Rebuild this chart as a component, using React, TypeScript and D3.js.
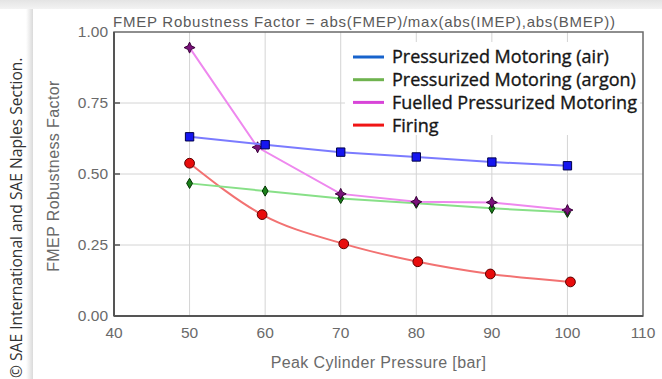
import React from "react";
import * as d3 from "d3";

// Peak cylinder pressure [bar] and FMEP robustness factor for each test mode
const airPressure = [50, 60, 70, 80, 90, 100];
const airFactor = [0.631, 0.603, 0.577, 0.56, 0.542, 0.529];

const argonPressure = [50, 60, 70, 80, 90, 100];
const argonFactor = [0.467, 0.44, 0.414, 0.397, 0.379, 0.365];

const fuelledPressure = [50, 59, 70, 80, 90, 100];
const fuelledFactor = [0.945, 0.594, 0.43, 0.402, 0.4, 0.373];

const firingPressure = [50, 59.6, 70.4, 80.2, 89.8, 100.4];
const firingFactor = [0.538, 0.357, 0.254, 0.191, 0.148, 0.12];

const xTicks = [40, 50, 60, 70, 80, 90, 100, 110];
const yTicks = [0, 0.25, 0.5, 0.75, 1.0];

const legendLabels = [
  "Pressurized Motoring (air)",
  "Pressurized Motoring (argon)",
  "Fuelled Pressurized Motoring",
  "Firing",
];

const W = 662;
const H = 379;
const plot = { left: 114, right: 643, top: 32, bottom: 316 };

type Series = {
  xs: number[];
  ys: number[];
  line: string;
  legend: string;
  marker: "square" | "diamond" | "star" | "circle";
  fill: string;
  stroke: string;
  smooth: boolean;
};

const series: Series[] = [
  { xs: firingPressure, ys: firingFactor, line: "#f27272", legend: "#f01515", marker: "circle", fill: "#e80c0c", stroke: "#5a0000", smooth: true },
  { xs: argonPressure, ys: argonFactor, line: "#88e088", legend: "#6fb34f", marker: "diamond", fill: "#1a801a", stroke: "#003300", smooth: false },
  { xs: fuelledPressure, ys: fuelledFactor, line: "#ee88ee", legend: "#d845d8", marker: "star", fill: "#7a127a", stroke: "#3a003a", smooth: false },
  { xs: airPressure, ys: airFactor, line: "#7b7bff", legend: "#1763cc", marker: "square", fill: "#1515f0", stroke: "#00004a", smooth: false },
];

const legendOrder = [3, 1, 2, 0];

// four-pointed star marker centred on the origin
function starPath(r: number) {
  const pts: [number, number][] = [];
  for (let i = 0; i < 8; i++) {
    const a = (Math.PI / 4) * i - Math.PI / 2;
    const rr = i % 2 === 0 ? r : r * 0.45;
    pts.push([Math.cos(a) * rr, Math.sin(a) * rr]);
  }
  return d3.line()(pts) + "Z";
}

export default function App() {
  const x = d3.scaleLinear().domain([40, 110]).range([plot.left, plot.right]);
  const y = d3.scaleLinear().domain([0, 1]).range([plot.bottom, plot.top]);

  const tickFont = "'Liberation Sans', Arial, sans-serif";
  const legendFont = "'Open Sans', Lato, sans-serif";

  const markerPath = (kind: Series["marker"]) => {
    if (kind === "square") return d3.symbol(d3.symbolSquare, 70)();
    if (kind === "diamond") return d3.symbol(d3.symbolDiamond, 30)();
    if (kind === "star") return starPath(5.5);
    return d3.symbol(d3.symbolCircle, 75)();
  };

  return (
    <svg
      width={W}
      height={H}
      style={{ position: "fixed", left: 0, top: 0, display: "block" }}
    >
      <defs>
        <linearGradient id="topShade" x1="0" y1="0" x2="0" y2="1">
          <stop offset="0" stopColor="#e4e4e4" />
          <stop offset="1" stopColor="#f3f3f3" />
        </linearGradient>
        <linearGradient id="sideShade" x1="0" y1="0" x2="1" y2="0">
          <stop offset="0" stopColor="#ffffff" />
          <stop offset="1" stopColor="#dadada" />
        </linearGradient>
      </defs>
      <rect x={0} y={0} width={W} height={H} fill="#ffffff" />
      <rect x={0} y={0} width={W} height={9} fill="url(#topShade)" />
      <rect x={26} y={9} width={7} height={H - 9} fill="url(#sideShade)" />

      {/* rotated copyright notice */}
      <text
        transform={`translate(22, 378) rotate(-90)`}
        fontFamily="'Open Sans', sans-serif"
        fontSize={15.6}
        fill="#333"
      >
        © SAE International and SAE Naples Section.
      </text>

      {/* grid */}
      <g stroke="#d4d4d4" strokeWidth={1}>
        {xTicks.slice(1, -1).map((t) => (
          <line key={`gx${t}`} x1={x(t)} x2={x(t)} y1={plot.top} y2={plot.bottom} />
        ))}
        {yTicks.slice(1, -1).map((t) => (
          <line key={`gy${t}`} x1={plot.left} x2={plot.right} y1={y(t)} y2={y(t)} />
        ))}
      </g>

      {/* legend */}
      <rect x={345} y={42} width={295} height={93} fill="#ffffff" />
      {legendOrder.map((si, i) => {
        const cy = 57 + i * 22.7;
        return (
          <g key={`lg${i}`}>
            <line x1={353} x2={384} y1={cy} y2={cy} stroke={series[si].legend} strokeWidth={3} />
            <text
              x={392}
              y={cy}
              dy="0.36em"
              fontFamily={legendFont}
              fontSize={18}
              fill="#161616"
              stroke="#161616"
              strokeWidth={0.35}
            >
              {legendLabels[i]}
            </text>
          </g>
        );
      })}

      {/* frame */}
      <rect
        x={plot.left}
        y={plot.top}
        width={plot.right - plot.left}
        height={plot.bottom - plot.top}
        fill="none"
        stroke="#6a6a6a"
        strokeWidth={1.5}
      />
      <line x1={plot.left} x2={plot.left} y1={plot.top} y2={plot.bottom} stroke="#555" strokeWidth={2} />
      <line x1={plot.left} x2={plot.right} y1={plot.bottom} y2={plot.bottom} stroke="#555" strokeWidth={2} />
      {yTicks.slice(1, -1).map((t) => (
        <line key={`ty${t}`} x1={plot.left} x2={plot.left + 6} y1={y(t)} y2={y(t)} stroke="#555" strokeWidth={1.5} />
      ))}

      {/* series */}
      {series.map((s, si) => {
        const pts: [number, number][] = s.xs.map((v, i) => [x(v), y(s.ys[i])]);
        const path =
          d3.line().curve(s.smooth ? d3.curveMonotoneX : d3.curveLinear)(pts) || "";
        return (
          <g key={`s${si}`}>
            <path d={path} fill="none" stroke={s.line} strokeWidth={2} />
            {pts.map((p, i) => (
              <path
                key={`m${si}-${i}`}
                d={markerPath(s.marker) || ""}
                transform={`translate(${p[0]},${p[1]})`}
                fill={s.fill}
                stroke={s.stroke}
                strokeWidth={1}
              />
            ))}
          </g>
        );
      })}

      {/* y tick labels */}
      {yTicks.map((t) => (
        <text
          key={`yl${t}`}
          x={108}
          y={y(t)}
          dy="0.35em"
          textAnchor="end"
          fontFamily={tickFont}
          fontSize={15.5}
          fill="#6a6a6a"
        >
          {t.toFixed(2)}
        </text>
      ))}
      {/* x tick labels */}
      {xTicks.map((t) => (
        <text
          key={`xl${t}`}
          x={x(t)}
          y={333}
          dy="0.35em"
          textAnchor="middle"
          fontFamily={tickFont}
          fontSize={15.5}
          fill="#6a6a6a"
        >
          {t}
        </text>
      ))}

      <text
        x={(plot.left + plot.right) / 2}
        y={362}
        dy="0.35em"
        textAnchor="middle"
        fontFamily={tickFont}
        fontSize={16}
        letterSpacing={0.4}
        fill="#6a6a6a"
      >
        Peak Cylinder Pressure [bar]
      </text>
      <text
        transform={`translate(53, 176) rotate(-90)`}
        dy="0.35em"
        textAnchor="middle"
        fontFamily={tickFont}
        fontSize={16}
        letterSpacing={0.4}
        fill="#6a6a6a"
      >
        FMEP Robustness Factor
      </text>
      <text
        x={113}
        y={27}
        fontFamily={tickFont}
        fontSize={15}
        letterSpacing={0.75}
        fill="#5a5a5a"
      >
        FMEP Robustness Factor = abs(FMEP)/max(abs(IMEP),abs(BMEP))
      </text>
    </svg>
  );
}
